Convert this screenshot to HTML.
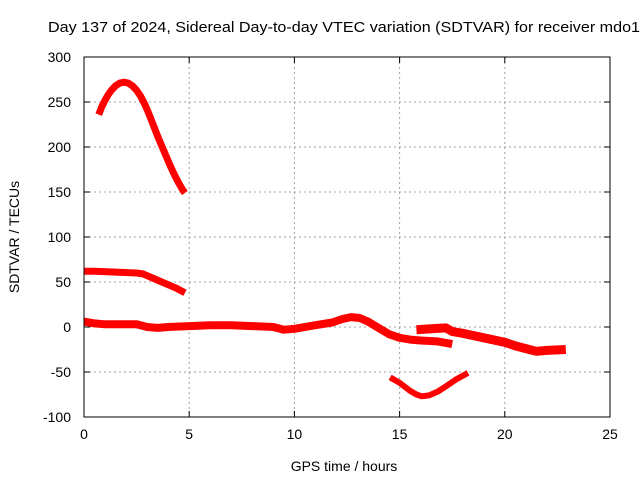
<!DOCTYPE html>
<html><head><meta charset="utf-8"><style>
body{margin:0;background:#fff;}
svg{font-family:"Liberation Sans",sans-serif;}
</style></head><body>
<svg id="c" width="640" height="480">
<rect width="640" height="480" fill="#fff"/>
<text x="48" y="32" font-size="15" textLength="592" lengthAdjust="spacingAndGlyphs">Day 137 of 2024, Sidereal Day-to-day VTEC variation (SDTVAR) for receiver mdo1</text>
<g id="grid"></g><g id="data"></g><g id="axes"></g>
<text x="344" y="471" font-size="14" text-anchor="middle">GPS time / hours</text>
<text transform="translate(19,237) rotate(-90)" font-size="14" text-anchor="middle">SDTVAR / TECUs</text>
</svg>
<script>
const xTicks=[0,5,10,15,20,25];
const yTicks=[300,250,200,150,100,50,0,-50,-100];
const seriesArc=[[0.7,236],[0.85,245],[1.0,252],[1.15,258],[1.3,263],[1.5,268],[1.7,271],[1.9,272],[2.1,271],[2.3,268],[2.5,263],[2.7,256],[2.9,247],[3.1,236],[3.3,224],[3.5,212],[3.7,201],[3.9,190],[4.1,179],[4.3,169],[4.5,160],[4.7,152],[4.8,149]];
const seriesUpper=[[0,62],[0.5,62],[1.5,61],[2.5,60],[2.8,59],[3.0,57],[3.3,54],[3.6,51],[4.0,47],[4.4,43],[4.8,38]];
const seriesMain=[[0,6],[0.5,4],[1,3],[2,3],[2.5,3],[3,0],[3.5,-1],[4,0],[5,1],[6,2],[7,2],[8,1],[9,0],[9.5,-3],[10,-2],[11,2],[11.8,5],[12.3,9],[12.7,11],[13.1,10],[13.5,6],[14,-1],[14.5,-8],[15,-12],[15.5,-14],[16,-15],[16.8,-16],[17.5,-19]];
const seriesLate=[[15.8,-3],[16.5,-2],[17.2,-1],[17.5,-5],[18,-7],[19,-12],[20,-17],[20.5,-21],[21,-24],[21.5,-27],[22,-26],[22.9,-25]];
const seriesDip=[[14.55,-56],[15,-62],[15.5,-71],[15.8,-75],[16.05,-77],[16.4,-76],[16.8,-72],[17.2,-66],[17.7,-58],[18.25,-51]];
const X0=84,X1=610,Y0=417,Y1=57;
const xs=v=>X0+(v-0)/25*(X1-X0);
const ys=v=>Y0-(v+100)/400*(Y0-Y1);
const NS="http://www.w3.org/2000/svg";
function mk(t,a,p){const e=document.createElementNS(NS,t);for(const k in a)e.setAttribute(k,a[k]);p.appendChild(e);return e;}
const grid=document.getElementById('grid'),axes=document.getElementById('axes'),data=document.getElementById('data');
xTicks.forEach(v=>{
  if(v>0&&v<25){const g=mk('line',{x1:xs(v),x2:xs(v),y1:Y1,y2:Y0,stroke:'#a0a0a0','stroke-dasharray':'2,3'},grid);
  
  }
  mk('line',{x1:xs(v),x2:xs(v),y1:Y0,y2:Y0-6,stroke:'#000'},axes);
  mk('line',{x1:xs(v),x2:xs(v),y1:Y1,y2:Y1+6,stroke:'#000'},axes);
  const t=mk('text',{x:xs(v),y:Y0+22,'font-size':14,'text-anchor':'middle'},axes);t.textContent=v;
  
  
});
yTicks.forEach(v=>{
  if(v>-100&&v<300){const g=mk('line',{x1:X0,x2:X1,y1:ys(v),y2:ys(v),stroke:'#a0a0a0','stroke-dasharray':'2,3'},grid);
  
  }
  mk('line',{x1:X0,x2:X0+6,y1:ys(v),y2:ys(v),stroke:'#000'},axes);
  mk('line',{x1:X1,x2:X1-6,y1:ys(v),y2:ys(v),stroke:'#000'},axes);
  const t=mk('text',{x:X0-13,y:ys(v)+5,'font-size':14,'text-anchor':'end'},axes);t.textContent=v;
  
  
});
const fr=mk('rect',{x:X0,y:Y1,width:X1-X0,height:Y0-Y1,fill:'none',stroke:'#000'},axes);


[['arc',seriesArc,7],['upper',seriesUpper,7],['main',seriesMain,8],['late',seriesLate,9],['dip',seriesDip,6]].forEach(([n,s,w])=>{
  const p=mk('polyline',{points:s.map(d=>xs(d[0])+','+ys(d[1])).join(' '),fill:'none',stroke:'#ff0000','stroke-width':w,'stroke-linejoin':'round','stroke-linecap':'butt'},data);
  
  
});
</script>
</body></html>
